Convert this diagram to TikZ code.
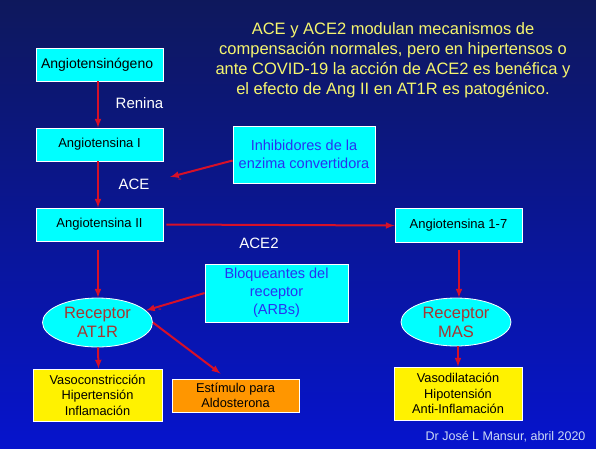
\documentclass[tikz,border=0pt]{standalone}
\usepackage{fontspec}
\setmainfont{Liberation Sans}
\usetikzlibrary{shapes.geometric}

\definecolor{fondoArriba}{RGB}{14,24,92}
\definecolor{fondoAbajo}{RGB}{6,20,205}
\definecolor{cian}{RGB}{0,255,255}
\definecolor{rojoflecha}{RGB}{215,16,40}
\definecolor{amarillotit}{RGB}{245,245,110}
\definecolor{azultexto}{RGB}{40,50,240}
\definecolor{rojoreceptor}{RGB}{165,55,50}
\definecolor{naranja}{RGB}{255,150,0}
\definecolor{gristexto}{RGB}{205,218,245}

\tikzset{
  caja/.style={draw=white,line width=0.8pt,fill=cian,minimum width=127pt,minimum height=33pt,
    inner xsep=5pt,font=\fontsize{13}{15}\selectfont},
  cajaazul/.style={caja,text=azultexto,align=center,font=\fontsize{14.5}{18}\selectfont},
  efecto/.style={caja,fill=yellow,align=center,font=\fontsize{12.8}{15.5}\selectfont},
  receptor/.style={ellipse,draw=white,line width=0.8pt,fill=cian,minimum width=110pt,minimum height=49pt,
    inner sep=0pt,text=rojoreceptor,align=center,font=\fontsize{16.5}{19}\selectfont},
  enzima/.style={text=white,font=\fontsize{15}{18}\selectfont},
  menos/.style={text=rojoflecha,font=\fontsize{11}{12}\selectfont},
  flecha/.style={draw=rojoflecha,line width=2pt,-latex},
}

\begin{document}
\begin{tikzpicture}[x=1pt,y=-1pt]
  \useasboundingbox (0,0) rectangle (596,448);
  \shade[top color=fondoArriba,bottom color=fondoAbajo] (0,0) rectangle (596,448);

  % titulo
  \node[text=amarillotit,align=center,font=\fontsize{16.5}{20}\selectfont] (titulo) at (393,60)
    {ACE y ACE2 modulan mecanismos de\\compensación normales, pero en hipertensos o\\
     ante COVID-19 la acción de ACE2 es benéfica y\\el efecto de Ang II en AT1R es patogénico.};

  % cascada
  \node[caja,text width=117pt,align=left,font=\fontsize{14}{15}\selectfont] (agtgeno) at (99.5,64.5)
    {Angiotensinógeno};
  \node[caja] (agt1) at (99.5,144.5) {Angiotensina I};
  \node[caja] (agt2) at (99.5,224.5) {Angiotensina II};
  \node[caja,minimum height=34pt] (agt17) at (458.5,225.5) {Angiotensina 1-7};
  \node[cajaazul,minimum width=142pt,minimum height=57pt] (inhib) at (304,154.5)
    {Inhibidores de la\\enzima convertidora};
  \node[cajaazul,minimum width=143pt,minimum height=58pt] (bloq) at (276.5,293)
    {Bloqueantes del\\receptor\\(ARBs)};

  \node[receptor] (at1r) at (97.5,322.5) {Receptor\\AT1R};
  \node[receptor,minimum height=48pt] (mas) at (456,322) {Receptor\\MAS};

  \node[efecto,minimum width=129pt,minimum height=52pt] (vasoc) at (97.5,395)
    {Vasoconstricción\\Hipertensión\\Inflamación};
  \node[efecto,fill=naranja] (aldo) at (235.5,395.5) {Estímulo para\\Aldosterona};
  \node[efecto,minimum width=128pt,minimum height=53pt] (vasod) at (458,393.5)
    {Vasodilatación\\Hipotensión\\Anti-Inflamación};

  \node[enzima] (renina) at (139.5,103) {Renina};
  \node[enzima] (ace) at (134,184) {ACE};
  \node[enzima] (ace2) at (259,243) {ACE2};
  \node[menos] (menos1) at (180,181) {-};
  \node[menos] (menos2) at (160,311) {-};

  \node[text=gristexto,anchor=east,font=\fontsize{12.5}{15}\selectfont] (firma) at (589,437)
    {Dr José L Mansur, abril 2020};

  \coordinate (puntaace) at (170,177);

  % flechas
  \draw[flecha] ([xshift=-1.5pt]agtgeno.south) -- ([xshift=-1.5pt]agt1.north);
  \draw[flecha] ([xshift=-1.5pt]agt1.south) -- ([xshift=-1.5pt]agt2.north);
  \draw[flecha] ([yshift=-6pt]inhib.west) -- (puntaace);
  \draw[flecha] ([xshift=3pt]agt2.east) -- (agt17.west);
  \draw[flecha] ([xshift=-1.5pt,yshift=-9pt]agt2.south) -- ([xshift=0.5pt]at1r.north);
  \draw[flecha] ([xshift=0.5pt,yshift=-7pt]agt17.south) -- ([xshift=3pt]mas.north);
  \draw[flecha] (bloq.west) -- (at1r.14);
  \draw[flecha] (at1r.east) -- ([xshift=-15pt,yshift=5pt]aldo.north);
  \draw[flecha] ([xshift=0.5pt]at1r.south) -- ([xshift=1pt]vasoc.north);
  \draw[flecha] ([xshift=2pt]mas.south) -- (vasod.north);
\end{tikzpicture}
\end{document}
